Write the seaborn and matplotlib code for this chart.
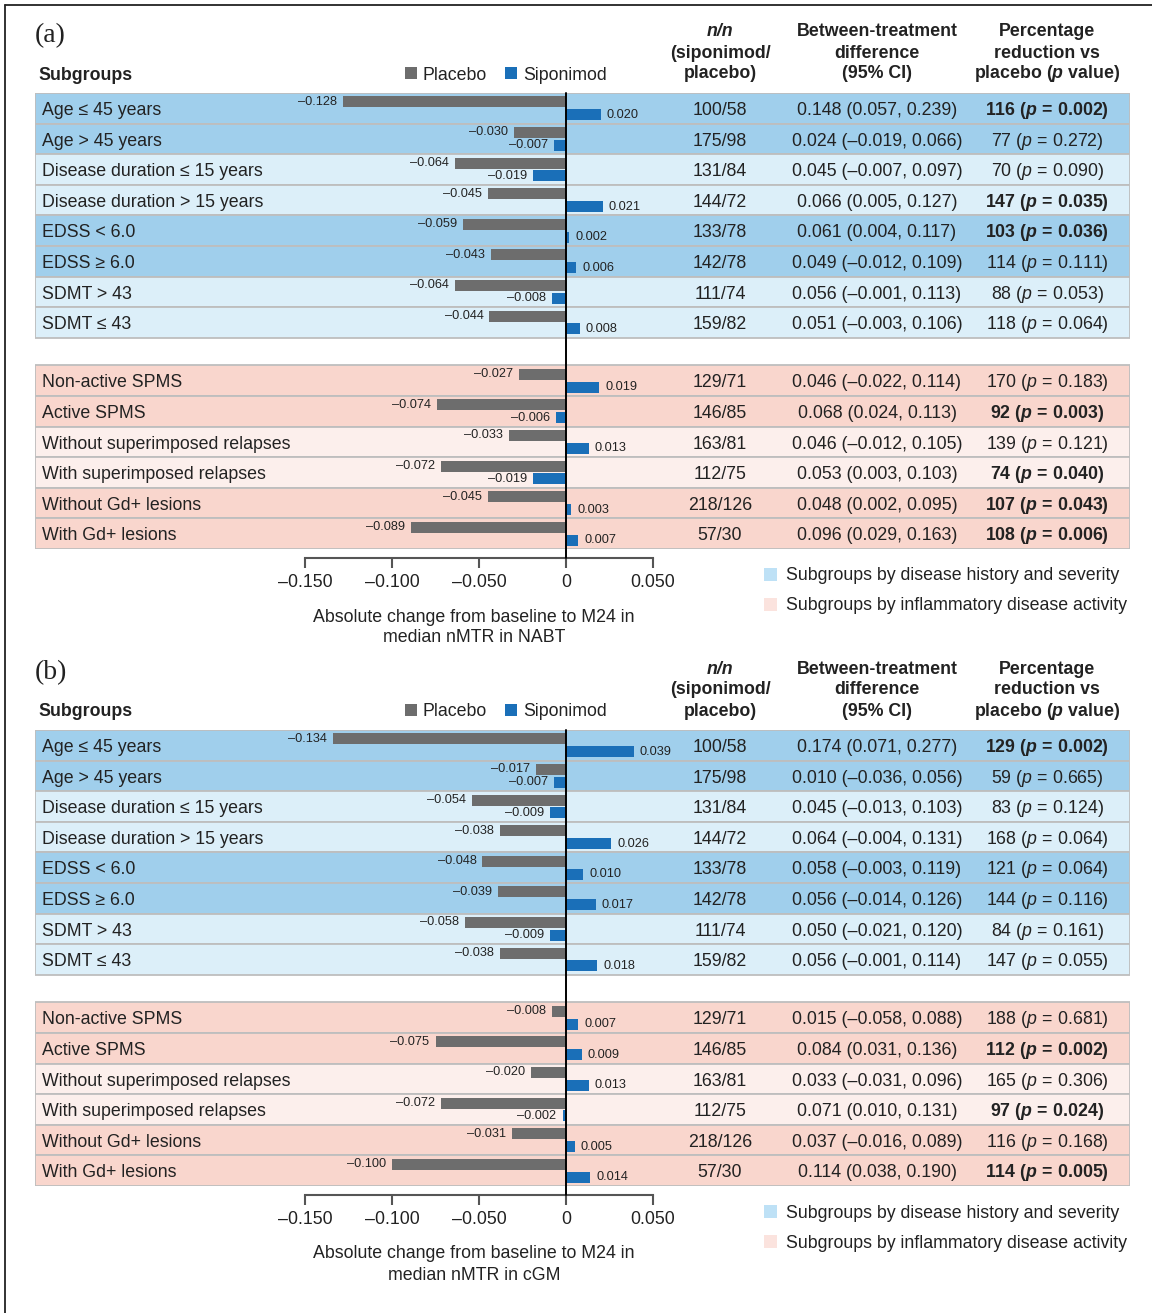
import numpy as np
import pandas as pd
import matplotlib
matplotlib.use("Agg")
import matplotlib.pyplot as plt
import matplotlib.transforms as mtransforms
from matplotlib.patches import Rectangle
from matplotlib.lines import Line2D
import seaborn as sns

sns.set_style("white")
plt.rcParams["font.family"] = ["Liberation Sans", "DejaVu Sans"]
plt.rcParams["mathtext.fontset"] = "custom"
plt.rcParams["mathtext.rm"] = "Liberation Sans"
plt.rcParams["mathtext.it"] = "Liberation Sans:italic"
plt.rcParams["mathtext.bf"] = "Liberation Sans:bold"
plt.rcParams["mathtext.bfit"] = "Liberation Sans:italic:bold"

# ---------------- data ----------------
subgroups = [
    "Age \u2264 45 years", "Age > 45 years",
    "Disease duration \u2264 15 years", "Disease duration > 15 years",
    "EDSS < 6.0", "EDSS \u2265 6.0", "SDMT > 43", "SDMT \u2264 43",
    "Non-active SPMS", "Active SPMS",
    "Without superimposed relapses", "With superimposed relapses",
    "Without Gd+ lesions", "With Gd+ lesions",
]
n_counts = ["100/58", "175/98", "131/84", "144/72", "133/78", "142/78", "111/74",
            "159/82", "129/71", "146/85", "163/81", "112/75", "218/126", "57/30"]

placebo_a = [-0.128, -0.030, -0.064, -0.045, -0.059, -0.043, -0.064, -0.044,
             -0.027, -0.074, -0.033, -0.072, -0.045, -0.089]
siponimod_a = [0.020, -0.007, -0.019, 0.021, 0.002, 0.006, -0.008, 0.008,
               0.019, -0.006, 0.013, -0.019, 0.003, 0.007]
diff_ci_a = ["0.148 (0.057, 0.239)", "0.024 (\u20130.019, 0.066)", "0.045 (\u20130.007, 0.097)",
             "0.066 (0.005, 0.127)", "0.061 (0.004, 0.117)", "0.049 (\u20130.012, 0.109)",
             "0.056 (\u20130.001, 0.113)", "0.051 (\u20130.003, 0.106)", "0.046 (\u20130.022, 0.114)",
             "0.068 (0.024, 0.113)", "0.046 (\u20130.012, 0.105)", "0.053 (0.003, 0.103)",
             "0.048 (0.002, 0.095)", "0.096 (0.029, 0.163)"]
reduction_a = [116, 77, 70, 147, 103, 114, 88, 118, 170, 92, 139, 74, 107, 108]
pvalue_a = ["0.002", "0.272", "0.090", "0.035", "0.036", "0.111", "0.053", "0.064",
            "0.183", "0.003", "0.121", "0.040", "0.043", "0.006"]

placebo_b = [-0.134, -0.017, -0.054, -0.038, -0.048, -0.039, -0.058, -0.038,
             -0.008, -0.075, -0.020, -0.072, -0.031, -0.100]
siponimod_b = [0.039, -0.007, -0.009, 0.026, 0.010, 0.017, -0.009, 0.018,
               0.007, 0.009, 0.013, -0.002, 0.005, 0.014]
diff_ci_b = ["0.174 (0.071, 0.277)", "0.010 (\u20130.036, 0.056)", "0.045 (\u20130.013, 0.103)",
             "0.064 (\u20130.004, 0.131)", "0.058 (\u20130.003, 0.119)", "0.056 (\u20130.014, 0.126)",
             "0.050 (\u20130.021, 0.120)", "0.056 (\u20130.001, 0.114)", "0.015 (\u20130.058, 0.088)",
             "0.084 (0.031, 0.136)", "0.033 (\u20130.031, 0.096)", "0.071 (0.010, 0.131)",
             "0.037 (\u20130.016, 0.089)", "0.114 (0.038, 0.190)"]
reduction_b = [129, 59, 83, 168, 121, 144, 84, 147, 188, 112, 165, 97, 116, 114]
pvalue_b = ["0.002", "0.665", "0.124", "0.064", "0.064", "0.116", "0.161", "0.055",
            "0.681", "0.002", "0.306", "0.024", "0.168", "0.005"]

x_ticks = [-0.150, -0.100, -0.050, 0, 0.050]
x_tick_labels = ["\u20130.150", "\u20130.100", "\u20130.050", "0", "0.050"]

# ---------------- layout helpers ----------------
W, H = 1152, 1313
fig = plt.figure(figsize=(W / 100, H / 100), dpi=100)
fig.patch.set_facecolor("white")


def fx(x):
    return x / W


def fy(y):
    return 1 - y / H


ROW_POS = list(range(8)) + [8.9 + j for j in range(6)]
ROW_COLORS = ["#A0CFEC", "#A0CFEC", "#DCEFF9", "#DCEFF9",
              "#A0CFEC", "#A0CFEC", "#DCEFF9", "#DCEFF9",
              "#F9D6CD", "#F9D6CD", "#FCEFEC", "#FCEFEC", "#F9D6CD", "#F9D6CD"]
PALETTE = {"Placebo": "#6D6D6D", "Siponimod": "#1A6FB8"}
TXT = "#222222"
ZERO_PX, PX_PER_UNIT = 566, 1740.0
TABLE_L, TABLE_R = 35, 1130
XL = (TABLE_L - ZERO_PX) / PX_PER_UNIT
XR = (TABLE_R - ZERO_PX) / PX_PER_UNIT
FS = 12.8
BASE_PX = 6.5          # baseline sits this far below a text line's visual centre
BASE_ROW = 0.22        # same offset in row units


def fmt(v):
    return f"{v:.3f}".replace("-", "\u2013")


def reduction_text(pct, p):
    if float(p) < 0.05:
        return rf"$\mathbf{{{pct}\ (}}\mathbfit{{p}}\mathbf{{\,=\,{p})}}$"
    return rf"$\mathrm{{{pct}\ (}}\mathit{{p}}\mathrm{{\,=\,{p})}}$"


def line_text(x, y, s, **kw):
    fig.text(fx(x), fy(y + BASE_PX), s, va="baseline", color=TXT, **kw)


# outer frame (top and left)
fig.add_artist(Line2D([fx(5), 1], [fy(5), fy(5)], transform=fig.transFigure, color="#222222", lw=1.3))
fig.add_artist(Line2D([fx(5), fx(5)], [fy(5), 0], transform=fig.transFigure, color="#222222", lw=1.3))


def draw_panel(dy, tag, placebo, siponimod, diff_ci, reduction, pvals, xlabel_lines):
    top, bottom = 93 + dy, 549 + dy
    ax = fig.add_axes([fx(TABLE_L), fy(bottom), (TABLE_R - TABLE_L) / W, (bottom - top) / H])
    ax.patch.set_alpha(0)
    band_tr = mtransforms.blended_transform_factory(ax.transAxes, ax.transData)

    for pos, col in zip(ROW_POS, ROW_COLORS):
        ax.add_patch(Rectangle((0, pos - 0.5), 1, 1, transform=band_tr, facecolor=col,
                               edgecolor="#BEBEBE", lw=1.3, zorder=0))

    df = pd.DataFrame({
        "pos": ROW_POS * 2,
        "change": list(placebo) + list(siponimod),
        "Treatment": ["Placebo"] * len(ROW_POS) + ["Siponimod"] * len(ROW_POS),
    })
    sns.barplot(data=df, x="change", y="pos", hue="Treatment",
                hue_order=["Placebo", "Siponimod"], palette=PALETTE, orient="h",
                native_scale=True, dodge=True, width=0.84, gap=0.15, saturation=1,
                errorbar=None, legend=False, linewidth=0, ax=ax, zorder=2)

    ax.set_xlim(XL, XR)
    ax.set_ylim(14.4, -0.5)
    ax.set_xlabel("")
    ax.set_ylabel("")
    ax.set_yticks([])

    # value labels next to each bar
    pad = 6 / PX_PER_UNIT
    for pos, vp, vs in zip(ROW_POS, placebo, siponimod):
        for v, yy in ((vp, pos - 0.21), (vs, pos + 0.21)):
            if v < 0:
                ax.text(v - pad, yy, fmt(v), ha="right", va="center", fontsize=9.2, color=TXT, zorder=4)
            else:
                ax.text(v + pad, yy, fmt(v), ha="left", va="center", fontsize=9.2, color=TXT, zorder=4)

    # zero reference line down to the axis
    ax.axvline(0, ymin=-9 / (bottom - top), ymax=1, color="black", lw=1.4, clip_on=False, zorder=3)

    for s in ("left", "right", "top"):
        ax.spines[s].set_visible(False)
    ax.spines["bottom"].set_position(("outward", 6.5))
    ax.spines["bottom"].set_bounds(-0.15, 0.05)
    ax.spines["bottom"].set_color("#555555")
    ax.spines["bottom"].set_linewidth(1.5)
    ax.set_xticks(x_ticks)
    ax.set_xticklabels(x_tick_labels, fontsize=FS, color=TXT)
    ax.tick_params(axis="x", bottom=True, direction="out", length=7.2, width=1.5,
                   color="#555555", pad=4.5)

    # table columns
    col_tr = mtransforms.blended_transform_factory(fig.transFigure, ax.transData)
    for i, pos in enumerate(ROW_POS):
        yb = pos + BASE_ROW
        ax.text(fx(42), yb, subgroups[i], transform=col_tr, ha="left", va="baseline", fontsize=FS, color=TXT)
        ax.text(fx(720), yb, n_counts[i], transform=col_tr, ha="center", va="baseline", fontsize=FS, color=TXT)
        ax.text(fx(877), yb, diff_ci[i], transform=col_tr, ha="center", va="baseline", fontsize=FS, color=TXT)
        ax.text(fx(1047), yb, reduction_text(reduction[i], pvals[i]), transform=col_tr,
                ha="center", va="baseline", fontsize=FS, color=TXT)

    # headers
    fig.text(fx(35), fy(42 + dy), tag, family="Liberation Serif", fontsize=20, ha="left",
             va="baseline", color=TXT)
    line_text(38, 73 + dy, "Subgroups", fontsize=FS, weight="bold", ha="left")
    fig.add_artist(Rectangle((fx(405), fy(79 + dy)), 12 / W, 12 / H, transform=fig.transFigure,
                             facecolor=PALETTE["Placebo"], edgecolor="none"))
    line_text(423, 73 + dy, "Placebo", fontsize=FS, ha="left")
    fig.add_artist(Rectangle((fx(505), fy(79 + dy)), 12 / W, 12 / H, transform=fig.transFigure,
                             facecolor=PALETTE["Siponimod"], edgecolor="none"))
    line_text(523, 73 + dy, "Siponimod", fontsize=FS, ha="left")

    heads = [
        (720, ["n/n", "(siponimod/", "placebo)"]),
        (877, ["Between-treatment", "difference", "(95% CI)"]),
        (1047, ["Percentage", "reduction vs", r"$\mathbf{placebo\ (}\mathbfit{p}\mathbf{\ value)}$"]),
    ]
    for xc, lines in heads:
        for k, line in enumerate(lines):
            style = "italic" if line == "n/n" else "normal"
            line_text(xc, 30 + 21 * k + dy, line, fontsize=FS, weight="bold", style=style, ha="center")

    # x-axis title
    line_text(474, 615 + dy, xlabel_lines[0], fontsize=FS, ha="center")
    line_text(474, 636 + dy, xlabel_lines[1], fontsize=FS, ha="center")

    # subgroup colour key
    fig.add_artist(Rectangle((fx(764), fy(581 + dy)), 13 / W, 13 / H, transform=fig.transFigure,
                             facecolor="#BEE1F6", edgecolor="none"))
    line_text(786, 574 + dy, "Subgroups by disease history and severity", fontsize=FS, ha="left")
    fig.add_artist(Rectangle((fx(764), fy(611 + dy)), 13 / W, 13 / H, transform=fig.transFigure,
                             facecolor="#FBE3DE", edgecolor="none"))
    line_text(786, 604 + dy, "Subgroups by inflammatory disease activity", fontsize=FS, ha="left")


draw_panel(0, "(a)", placebo_a, siponimod_a, diff_ci_a, reduction_a, pvalue_a,
           ["Absolute change from baseline to M24 in", "median nMTR in NABT"])
draw_panel(637, "(b)", placebo_b, siponimod_b, diff_ci_b, reduction_b, pvalue_b,
           ["Absolute change from baseline to M24 in", "median nMTR in cGM"])

fig.savefig("out.png", dpi=100)
